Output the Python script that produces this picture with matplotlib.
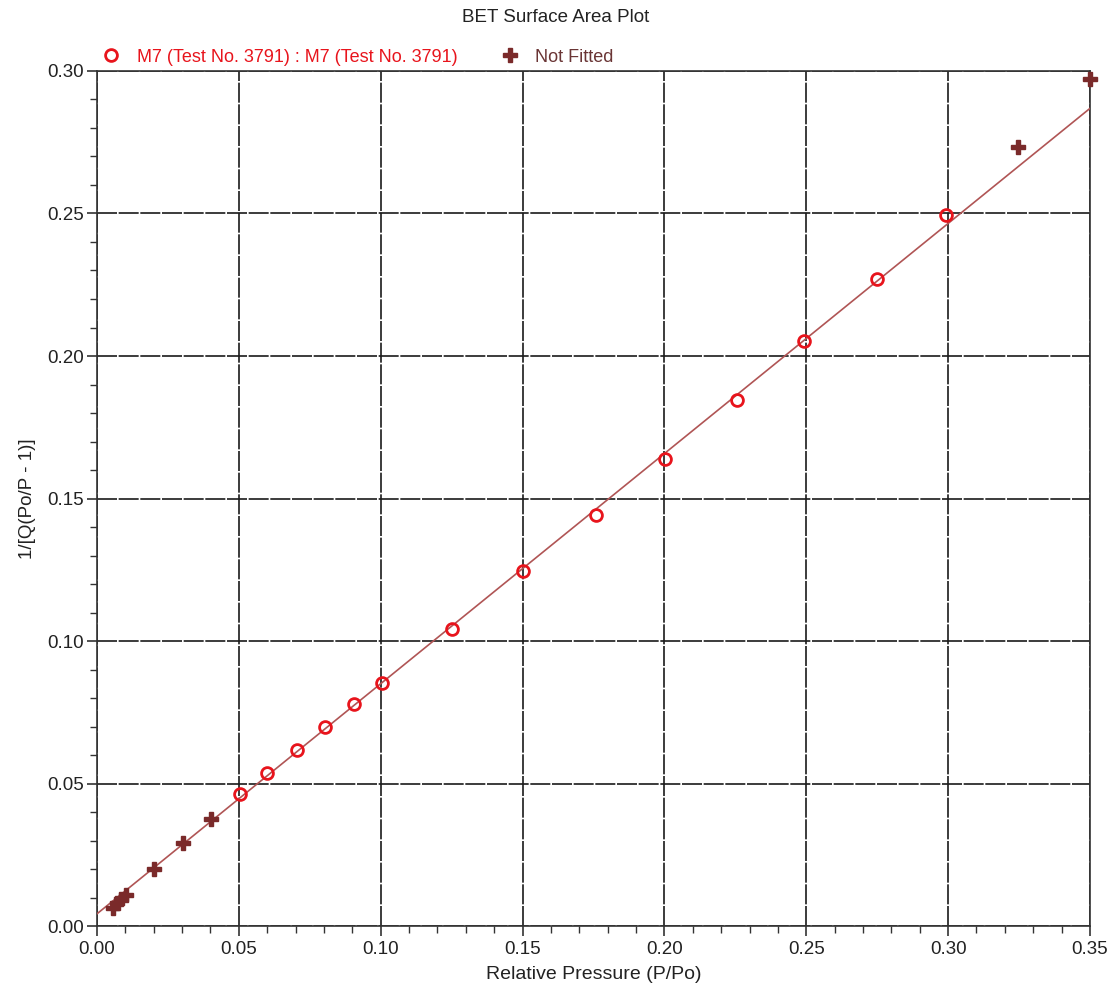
import numpy as np
import matplotlib
matplotlib.use('Agg')
import matplotlib.pyplot as plt
from matplotlib.ticker import MultipleLocator, FormatStrFormatter

plt.rcParams['font.family'] = ['Liberation Sans', 'DejaVu Sans']

# fitted points (open red circles)
fitted_p = [0.0504, 0.0599, 0.0705, 0.0804, 0.0906, 0.1005, 0.1251, 0.1502,
            0.1759, 0.2002, 0.2256, 0.2492, 0.2749, 0.2993]
fitted_q = [0.0463, 0.0537, 0.0618, 0.0698, 0.0779, 0.0853, 0.1042, 0.1246,
            0.1442, 0.1639, 0.1846, 0.2053, 0.2270, 0.2495]

# points outside the fit range
notfit_p = [0.0056, 0.0070, 0.0085, 0.0102, 0.0201, 0.0303, 0.0402, 0.3246, 0.3500]
notfit_q = [0.0063, 0.0081, 0.0095, 0.0109, 0.0200, 0.0291, 0.0375, 0.2733, 0.2972]

series_label = 'M7 (Test No. 3791) : M7 (Test No. 3791)'
notfit_label = 'Not Fitted'

RED = '#e8141c'
DARKRED = '#7a2a2a'
LINE = '#b05555'

fig = plt.figure(figsize=(11.12, 9.9), dpi=100)
ax = fig.add_axes([0.0872, 0.0646, 0.893, 0.8637])

# BET fit line through the fitted points
slope, intercept = np.polyfit(fitted_p, fitted_q, 1)
xfit = np.linspace(0.0, 0.35, 50)
ax.plot(xfit, slope * xfit + intercept, color=LINE, lw=1.2, zorder=3)

ax.plot(fitted_p, fitted_q, 'o', ms=8.5, mfc='none', mec=RED, mew=2.0,
        label=series_label, zorder=5, clip_on=False)
ax.plot(notfit_p, notfit_q, 'P', ms=10, color=DARKRED, mec=DARKRED,
        label=notfit_label, zorder=4, clip_on=False)

ax.set_xlim(0, 0.35)
ax.set_ylim(0, 0.30)
ax.xaxis.set_major_locator(MultipleLocator(0.05))
ax.xaxis.set_minor_locator(MultipleLocator(0.01))
ax.yaxis.set_major_locator(MultipleLocator(0.05))
ax.yaxis.set_minor_locator(MultipleLocator(0.01))
ax.xaxis.set_major_formatter(FormatStrFormatter('%.2f'))
ax.yaxis.set_major_formatter(FormatStrFormatter('%.2f'))
ax.tick_params(which='major', length=7.5, width=1.2, color='#333333',
               labelsize=13.5, labelcolor='#222222', direction='out', pad=2)
ax.tick_params(which='minor', length=5, width=1.0, color='#333333', direction='out')
ax.tick_params(axis='x', pad=3)

ax.grid(True, which='major', color='#1a1a1a', lw=1.2, linestyle=(0, (12, 1.0)), zorder=1)
for s in ax.spines.values():
    s.set_color('#333333')
    s.set_linewidth(1.2)

ax.set_xlabel('Relative Pressure (P/Po)', fontsize=14, color='#222222', labelpad=6)
ax.set_ylabel('1/[Q(Po/P - 1)]', fontsize=13.5, color='#222222', labelpad=8)
fig.text(0.5, 0.982, 'BET Surface Area Plot', ha='center', va='center',
         fontsize=13.5, color='#222222')

ax.legend(loc='lower left', bbox_to_anchor=(0.0, 1.0), ncol=2, frameon=False,
          fontsize=13, labelcolor=[RED, '#6a3535'], handlelength=1.0,
          handletextpad=0.9, columnspacing=2.4, borderaxespad=0.1,
          borderpad=0.2)

fig.savefig('out.png', dpi=100)
